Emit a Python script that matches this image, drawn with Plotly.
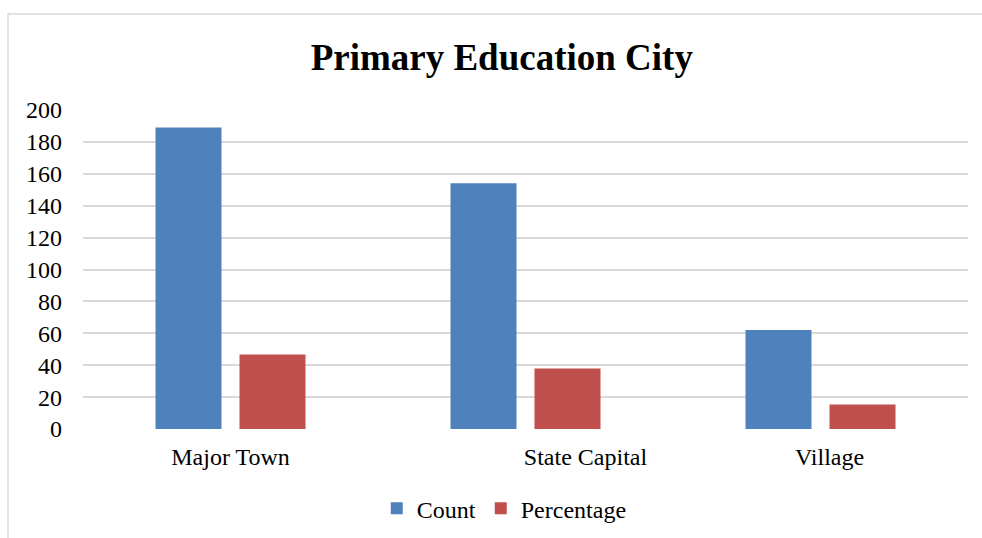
import plotly.graph_objects as go

# Respondents by city type for primary education
categories = ["Major Town", "State Capital", "Village"]
count_values = [189, 154, 62]
percentage_values = [46.7, 38.0, 15.3]
y_ticks = [0, 20, 40, 60, 80, 100, 120, 140, 160, 180, 200]

# category labels as typed in the source sheet (leading padding kept)
NBSP = "\u00a0"
tick_labels = [categories[0], NBSP * 20 + categories[1], NBSP * 3 + categories[2]]

FONT = "Liberation Serif, Times New Roman, serif"
BLUE = "#4F81BD"
RED = "#C0504D"
GRID = "#D9D9D9"

fig = go.Figure()
fig.add_trace(go.Bar(name="Count", x=categories, y=count_values,
                     marker=dict(color=BLUE, line=dict(width=0))))
fig.add_trace(go.Bar(name="Percentage", x=categories, y=percentage_values,
                     marker=dict(color=RED, line=dict(width=0))))

fig.update_layout(
    width=982, height=538,
    margin=dict(l=83, r=14, t=110, b=109, autoexpand=False),
    paper_bgcolor="white", plot_bgcolor="white",
    barmode="group", bargap=0.4305, bargroupgap=0.214,
    font=dict(family=FONT, size=24, color="black"),
    title=dict(text="<b>Primary Education City</b>",
               font=dict(family=FONT, size=37, color="black"),
               x=0.511, xref="container", xanchor="center",
               y=1 - 57 / 538, yref="container", yanchor="middle"),
    showlegend=True,
    legend=dict(orientation="h", x=0.476, xref="paper", xanchor="center",
                y=-0.25, yanchor="middle", font=dict(family=FONT, size=24),
                itemwidth=30, bgcolor="rgba(0,0,0,0)"),
    xaxis=dict(type="category", tickmode="array", tickvals=categories,
               ticktext=tick_labels, showgrid=False, zeroline=False,
               showline=False, ticks="", ticklabelstandoff=11,
               tickfont=dict(family=FONT, size=24)),
    yaxis=dict(range=[0, 200], tickmode="array", tickvals=y_ticks,
               showgrid=True, gridcolor=GRID, gridwidth=2,
               zeroline=False, showline=False, ticks="",
               ticklabelstandoff=20, tickfont=dict(family=FONT, size=24)),
)

# outer chart frame
fig.add_shape(type="rect", xref="paper", yref="paper",
              x0=(8 - 83) / 885, x1=1.2, y0=-0.6, y1=(429.3 - 14) / 319.3,
              line=dict(color=GRID, width=1.5), fillcolor="rgba(0,0,0,0)",
              layer="below")

fig.write_html("out.html")
